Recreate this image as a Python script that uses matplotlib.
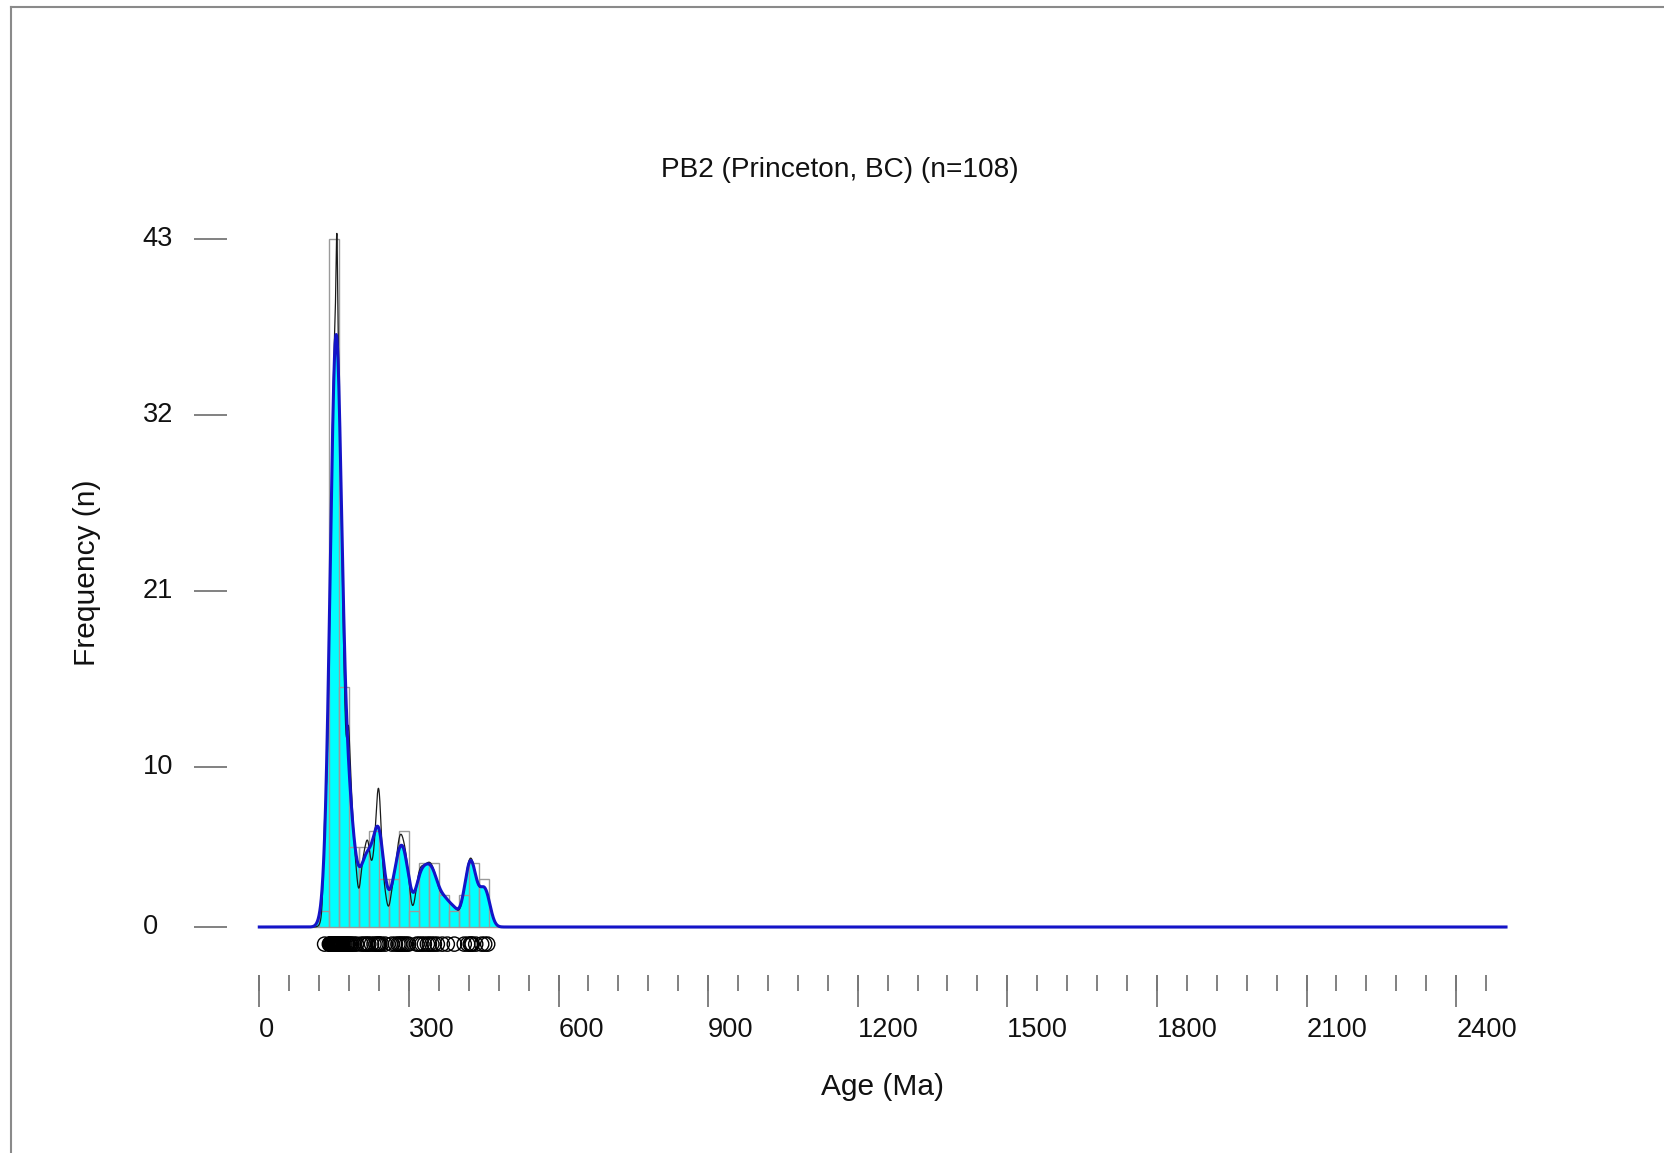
import numpy as np
import matplotlib
matplotlib.use("Agg")
import matplotlib.pyplot as plt
from matplotlib.lines import Line2D

# ---- data -------------------------------------------------------------
title = "PB2 (Princeton, BC) (n=108)"
x_label = "Age (Ma)"
y_label = "Frequency (n)"

# single-grain U-Pb ages (Ma)
ages = np.array([
    131.0,
    140.5, 141.5, 142.5, 143.3, 144.0, 144.7, 145.3, 145.9, 146.5, 147.0,
    147.5, 148.0, 148.5, 149.0, 149.4, 149.8, 150.2, 150.6, 151.0, 151.4,
    151.8, 152.2, 152.6, 153.0, 153.4, 153.8, 154.2, 154.6, 155.0, 155.4,
    155.6, 155.8, 156.2, 156.6, 157.0, 157.4, 157.8, 158.2, 158.6, 159.0,
    159.3, 159.6, 159.8,
    160.5, 161.0, 161.5, 162.0, 163.0, 164.0, 165.0, 166.5, 168.0, 170.0,
    172.0, 174.5, 176.0, 177.5, 178.5,
    181.0, 183.0, 186.0, 190.0, 195.0,
    204.0, 209.0, 213.0, 217.0, 219.5,
    225.0, 230.0, 234.0, 237.0, 239.0, 239.8,
    241.5, 245.0, 252.0,
    266.0, 273.0, 278.0,
    281.0, 284.0, 287.5, 291.0, 295.0, 299.0,
    316.0,
    321.0, 326.0, 331.0, 337.0,
    341.0, 346.0, 351.0, 357.0,
    367.0, 377.0,
    391.0,
    411.0, 418.0,
    423.0, 425.0, 427.0, 434.0,
    446.0, 452.0, 458.0,
])

# 1-sigma analytical uncertainties (Ma)
age_errors = np.array([
    2.6,
    8.0, 8.0, 8.1, 7.9, 8.0, 8.1, 8.0, 7.9, 8.0, 8.1,
    8.0, 7.9, 8.0, 8.1, 8.0, 8.0, 7.9, 8.0, 8.1, 8.0,
    7.9, 8.0, 8.1, 8.0, 7.9, 8.0, 8.1, 8.0, 7.9, 8.0,
    1.5, 8.0, 7.9, 8.0, 8.1, 8.0, 7.9, 8.0, 8.1, 8.0,
    8.1, 8.0, 8.1,
    8.0, 7.9, 8.0, 8.1, 8.0, 7.9, 8.0, 8.1, 8.0, 7.9,
    8.0, 8.0, 8.0, 8.0, 2.6,
    3.8, 4.0, 4.0, 4.0, 4.1,
    4.0, 4.0, 4.1, 4.1, 4.2,
    4.5, 4.5, 4.5, 4.5, 4.5, 4.5,
    4.5, 4.8, 5.0,
    5.2, 5.5, 5.5,
    5.5, 5.6, 5.8, 5.9, 6.0, 6.0,
    6.3,
    6.5, 6.6, 6.6, 6.7,
    6.8, 6.9, 7.0, 7.1,
    7.3, 7.4,
    7.9,
    8.2, 8.3,
    8.4, 8.4, 8.5, 8.6,
    8.8, 9.0, 9.1,
])

bin_width = 20.0          # histogram bin width (Ma)
kde_bandwidth = 9.0       # Gaussian kernel bandwidth (Ma)
age_range = (0.0, 2500.0)

y_ticks = [0, 10, 21, 32, 43]
x_major = [0, 300, 600, 900, 1200, 1500, 1800, 2100, 2400]
x_minor = np.arange(0, 2461, 60)

# ---- curves -----------------------------------------------------------
grid = np.linspace(age_range[0], age_range[1], 10001)


def gauss_sum(x, centers, widths):
    z = (x[:, None] - centers[None, :]) / widths[None, :]
    return (np.exp(-0.5 * z ** 2) / (widths[None, :] * np.sqrt(2 * np.pi))).sum(axis=1)


kde = bin_width * gauss_sum(grid, ages, np.full(ages.size, kde_bandwidth))
pdp = bin_width * gauss_sum(grid, ages, age_errors)
bins = np.arange(age_range[0], age_range[1] + bin_width, bin_width)

# ---- figure -----------------------------------------------------------
W, H, DPI = 1665, 1153, 100
plt.rcParams["font.family"] = ["Liberation Sans", "DejaVu Sans"]
fig = plt.figure(figsize=(W / DPI, H / DPI), dpi=DPI)
fig.patch.set_facecolor("white")

ax = fig.add_axes([0.12578, 0.16826, 0.80869, 0.65221])
ax.set_xlim(-100, 2600)
ax.set_ylim(-2, 45)
ax.axis("off")

ax.fill_between(grid, 0, kde, color="#00FFFF", lw=0, zorder=1)
ax.hist(ages, bins=bins, histtype="bar", facecolor="none",
        edgecolor="#9a9a9a", linewidth=1.0, zorder=2)
ax.plot(grid, pdp, color="#1a1a1a", lw=0.9, zorder=3)
ax.plot(grid, kde, color="#1414c8", lw=2.2, zorder=4)

ax.scatter(ages, np.full(ages.size, -1.07), s=105, facecolors="none",
           edgecolors="black", linewidths=1.0, zorder=5, clip_on=False)

tick_col = "#777777"
# y ticks: detached dashes with labels
ax.hlines(y_ticks, -130.3, -65.4, color=tick_col, lw=1.3, clip_on=False)
for v in y_ticks:
    ax.text(-233.8, v, str(v), ha="left", va="center", fontsize=19.6,
            color="#111111")

# x ticks below the baseline
ax.vlines(x_minor, -4.0, -3.0, color=tick_col, lw=1.3, clip_on=False)
ax.vlines(x_major, -5.0, -3.0, color=tick_col, lw=1.3, clip_on=False)
for v in x_major:
    ax.text(v, -6.44, str(v), ha="left", va="center", fontsize=19.6,
            color="#111111")

ax.text(1163.4, 47.3, title, ha="center", va="center", fontsize=20.2,
        color="#111111")
ax.text(1249.6, -10.0, x_label, ha="center", va="center", fontsize=21.5,
        color="#111111")
ax.text(-346.1, 22.16, y_label, ha="center", va="center", fontsize=21.5,
        rotation=90, color="#111111")

# frame lines at the left and top edges
fig.add_artist(Line2D([11 / W, 11 / W], [0, 1 - 7 / H], color="#8a8a8a", lw=1.5))
fig.add_artist(Line2D([11 / W, 1], [1 - 7 / H, 1 - 7 / H], color="#8a8a8a", lw=1.5))

fig.savefig("out.png", dpi=DPI, facecolor="white")
